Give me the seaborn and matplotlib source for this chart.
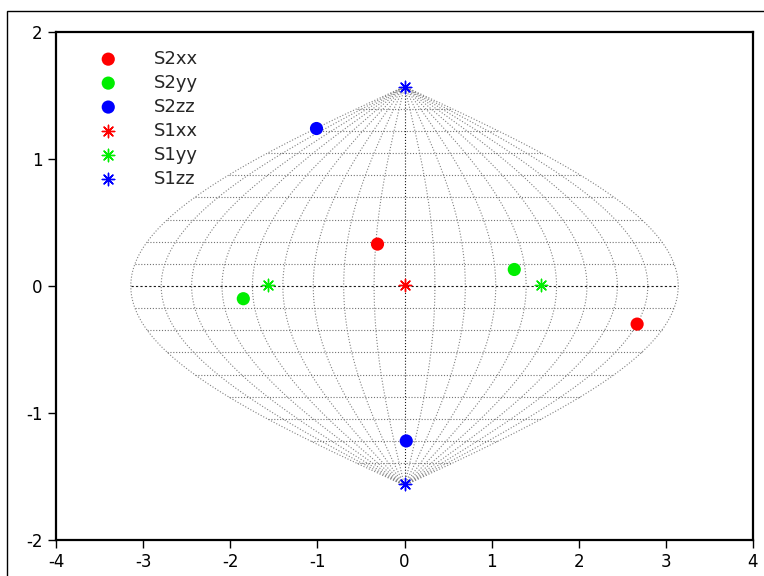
import matplotlib
matplotlib.use('Agg')
import matplotlib.pyplot as plt
import numpy as np
import pandas as pd
import seaborn as sns

# points
s2xx_x = [-0.31, 2.67]
s2xx_y = [0.33, -0.30]
s2yy_x = [-1.85, 1.26]
s2yy_y = [-0.10, 0.13]
s2zz_x = [-1.01, 0.02]
s2zz_y = [1.24, -1.22]
s1xx_x = [0.0]
s1xx_y = [0.01]
s1yy_x = [-1.57, 1.57]
s1yy_y = [0.01, 0.01]
s1zz_x = [0.0, 0.0]
s1zz_y = [1.57, -1.56]

# sinusoidal grid: meridians every 20 deg, parallels every 10 deg
meridians_deg = list(range(-180, 181, 20))
parallels_deg = list(range(-90, 91, 10))

sns.set_style('white')
plt.rcParams['font.family'] = ['DejaVu Sans']
plt.rcParams['axes.unicode_minus'] = False

fig = plt.figure(figsize=(7.64, 5.76), dpi=100)
ax = fig.add_axes([56 / 764, 36 / 576, 697 / 764, 508 / 576])

# outer frame of the picture
fig.patches.append(plt.Rectangle((7 / 764, -0.1), 1.2, 1.1 - 11 / 576,
                                 transform=fig.transFigure, fill=False,
                                 edgecolor='black', linewidth=1.0))

lat = np.linspace(-np.pi / 2, np.pi / 2, 400)
for m in meridians_deg:
    lon = np.radians(m)
    c = '0.1' if m == 0 else '0.5'
    ax.plot(lon * np.cos(lat), lat, linestyle=':', color=c, linewidth=0.8, zorder=1)
for p in parallels_deg:
    phi = np.radians(p)
    half = np.pi * np.cos(phi)
    xs = np.linspace(-half, half, 200)
    c = '0.1' if p == 0 else '0.45'
    ls = '--' if p == 0 else ':'
    ax.plot(xs, np.full_like(xs, phi), linestyle=ls, dashes=(2, 2) if p == 0 else (1, 1.6),
            color=c, linewidth=0.8, zorder=1)

series = [
    ('S2xx', s2xx_x, s2xx_y, '#ff0000', 'o'),
    ('S2yy', s2yy_x, s2yy_y, '#00ee00', 'o'),
    ('S2zz', s2zz_x, s2zz_y, '#0000ff', 'o'),
    ('S1xx', s1xx_x, s1xx_y, '#ff0000', (8, 2, 0)),
    ('S1yy', s1yy_x, s1yy_y, '#00ee00', (8, 2, 0)),
    ('S1zz', s1zz_x, s1zz_y, '#0000ff', (8, 2, 0)),
]
for name, xs, ys, col, mk in series:
    df = pd.DataFrame({'x': xs, 'y': ys})
    if mk == 'o':
        sns.scatterplot(data=df, x='x', y='y', ax=ax, color=col, marker='o',
                        s=90, edgecolor='none', label=name, zorder=3)
    else:
        ax.scatter(df['x'], df['y'], marker=mk, s=80, color=col,
                   linewidths=1.0, label=name, zorder=3)

ax.set_xlim(-4, 4)
ax.set_ylim(-2, 2)
ax.set_xticks(range(-4, 5))
ax.set_yticks(range(-2, 3))
ax.set_xlabel('')
ax.set_ylabel('')
ax.tick_params(direction='out', length=6, width=1, labelsize=12, colors='black',
               bottom=True, left=True)
for sp in ax.spines.values():
    sp.set_linewidth(1.6)
    sp.set_color('black')

leg = ax.legend(loc='upper left', bbox_to_anchor=(0.0387, 0.979), borderaxespad=0,
                frameon=False, fontsize=13, handletextpad=1.5,
                labelspacing=0.33, markerscale=1.0)

fig.savefig('out.png', dpi=100)
